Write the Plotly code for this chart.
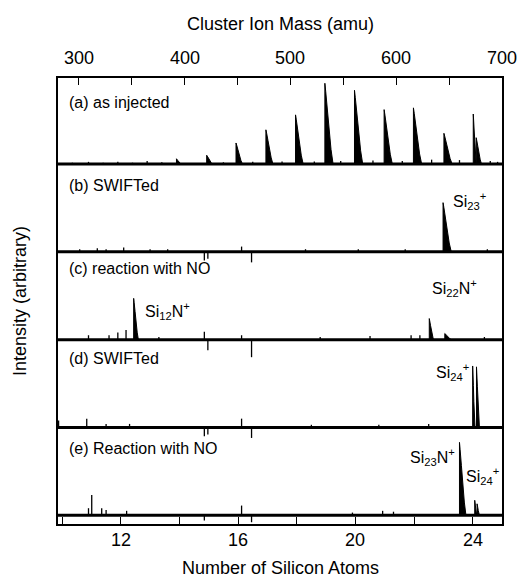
import plotly.graph_objects as go

# ---------------- data ----------------
# x in "Number of Silicon Atoms"; heights as fraction of a panel's height
panel_names = ["(a) as injected", "(b) SWIFTed", "(c) reaction with NO",
               "(d) SWIFTed", "(e) Reaction with NO"]

# broad peaks (position, height, width)
a_peak_x = [13.9, 14.93, 15.93, 16.95, 17.96, 18.96, 19.97, 20.98, 21.98, 23.02, 24.02, 24.12]
a_peak_h = [0.06, 0.10, 0.24, 0.39, 0.56, 0.92, 0.84, 0.62, 0.64, 0.35, 0.57, 0.30]
a_peak_w = [0.15, 0.20, 0.22, 0.24, 0.26, 0.28, 0.28, 0.28, 0.28, 0.28, 0.10, 0.18]
# narrow features / noise spikes (position, height)
a_spk_x = [10.35, 10.9, 11.4, 11.9, 12.4, 12.9, 13.4, 15.5, 16.5, 17.5, 18.6,
           19.5, 20.6, 21.6, 22.6, 23.55, 24.6, 24.85]
a_spk_h = [0.015, 0.025, 0.015, 0.025, 0.015, 0.035, 0.02, 0.02, 0.025, 0.03, 0.03,
           0.035, 0.04, 0.035, 0.05, 0.045, 0.035, 0.025]

b_peak_x = [22.99]
b_peak_h = [0.56]
b_peak_w = [0.28]
b_spk_x = [10.6, 11.2, 11.5, 12.1, 13.0, 13.6, 14.85, 14.97, 16.12, 16.46, 18.3, 20.1, 21.7, 24.5]
b_spk_h = [0.03, 0.04, 0.03, 0.05, 0.03, 0.03, -0.1, -0.08, 0.06, -0.12, 0.03, 0.03, 0.03, 0.03]

c_peak_x = [12.44, 22.52, 23.05]
c_peak_h = [0.47, 0.24, 0.07]
c_peak_w = [0.16, 0.14, 0.22]
c_spk_x = [10.9, 11.6, 11.9, 12.18, 13.3, 14.85, 14.97, 16.12, 16.46, 18.8, 20.5, 21.9, 22.2, 24.4]
c_spk_h = [0.05, 0.05, 0.08, 0.11, 0.03, 0.09, -0.12, 0.05, -0.2, 0.03, 0.04, 0.05, 0.05, 0.03]

d_peak_x = [24.0, 24.13]
d_peak_h = [0.70, 0.69]
d_peak_w = [0.08, 0.10]
d_spk_x = [9.88, 10.84, 11.5, 12.3, 14.85, 14.97, 16.12, 16.46, 18.5, 20.8, 22.5]
d_spk_h = [0.08, 0.10, 0.04, 0.04, -0.1, -0.08, 0.1, -0.12, 0.03, 0.03, 0.04]

e_peak_x = [23.55, 24.07, 24.15]
e_peak_h = [0.83, 0.17, 0.13]
e_peak_w = [0.22, 0.07, 0.08]
e_spk_x = [10.9, 11.01, 11.35, 11.5, 12.2, 14.85, 16.12, 16.46, 19.9, 20.93, 21.3]
e_spk_h = [0.08, 0.23, 0.08, 0.06, 0.05, -0.06, 0.11, -0.08, 0.03, 0.05, 0.04]

si_ticks = [10, 12, 14, 16, 18, 20, 22, 24]
si_label_vals = [12, 16, 20, 24]
mass_ticks = [300, 350, 400, 450, 500, 550, 600, 650, 700]
mass_label_vals = [300, 400, 500, 600, 700]

X_RANGE = [9.86, 25.0]
MASS_RANGE = [280.2, 700.0]

# peak shape template (fraction of width, fraction of height)
SHAPE_DX = [0, 0, 0.1, 0.3, 0.5, 0.75, 1.0]
SHAPE_DY = [0, 1, 0.9, 0.68, 0.42, 0.18, 0]

panels = [
    (a_peak_x, a_peak_h, a_peak_w, a_spk_x, a_spk_h),
    (b_peak_x, b_peak_h, b_peak_w, b_spk_x, b_spk_h),
    (c_peak_x, c_peak_h, c_peak_w, c_spk_x, c_spk_h),
    (d_peak_x, d_peak_h, d_peak_w, d_spk_x, d_spk_h),
    (e_peak_x, e_peak_h, e_peak_w, e_spk_x, e_spk_h),
]
offsets = [4, 3, 2, 1, 0]

fig = go.Figure()
for (px, ph, pw, sx, sh), off in zip(panels, offsets):
    fig.add_trace(go.Scatter(x=X_RANGE, y=[off, off], mode="lines",
                             line=dict(color="black", width=3), hoverinfo="skip"))
    xs, ys = [], []
    for x0, h, w in zip(px, ph, pw):
        for dx, dy in zip(SHAPE_DX, SHAPE_DY):
            xs.append(x0 + dx * w)
            ys.append(off + dy * h)
        xs.append(None); ys.append(None)
    fig.add_trace(go.Scatter(x=xs, y=ys, mode="lines", fill="toself",
                             fillcolor="black", line=dict(color="black", width=1),
                             hoverinfo="skip"))
    xs, ys = [], []
    for x0, h in zip(sx, sh):
        xs += [x0, x0, None]
        ys += [off, off + h, None]
    fig.add_trace(go.Scatter(x=xs, y=ys, mode="lines",
                             line=dict(color="black", width=1.3), hoverinfo="skip"))

fig.add_trace(go.Scatter(x=MASS_RANGE, y=[None, None], xaxis="x2", mode="lines",
                         hoverinfo="skip"))

FONT = "Liberation Sans, Arial, sans-serif"
TOP_PX = 78
PLOT_H = 524 - TOP_PX

def paper_y(py):
    return (524 - py) / PLOT_H

label_y = [4.70, 3.75, 2.81, 1.78, 0.76]
annotations = []
for name, ly in zip(panel_names, label_y):
    annotations.append(dict(x=10.15, y=ly, xref="x", yref="y", text=name,
                            showarrow=False, xanchor="left", yanchor="middle",
                            font=dict(size=16, color="black", family=FONT)))

species = [
    ("Si<sub>23</sub><sup>+</sup>", 23.25, 3.58, "left"),
    ("Si<sub>12</sub>N<sup>+</sup>", 12.75, 2.33, "left"),
    ("Si<sub>22</sub>N<sup>+</sup>", 22.54, 2.59, "left"),
    ("Si<sub>24</sub><sup>+</sup>", 23.93, 1.63, "right"),
    ("Si<sub>23</sub>N<sup>+</sup>", 23.47, 0.66, "right"),
    ("Si<sub>24</sub><sup>+</sup>", 23.72, 0.45, "left"),
]
for txt, x, y, anc in species:
    annotations.append(dict(x=x, y=y, xref="x", yref="y", text=txt, showarrow=False,
                            xanchor=anc, yanchor="middle",
                            font=dict(size=16, color="black", family=FONT)))

for v in si_label_vals:
    annotations.append(dict(x=v, y=paper_y(540), xref="x", yref="paper", text=str(v),
                            showarrow=False, xanchor="center", yanchor="middle",
                            font=dict(size=18, color="black", family=FONT)))
for v in mass_label_vals:
    annotations.append(dict(x=v, y=paper_y(58), xref="x2", yref="paper", text=str(v),
                            showarrow=False, xanchor="center", yanchor="middle",
                            font=dict(size=18, color="black", family=FONT)))
annotations.append(dict(x=0.5, y=paper_y(568), xref="paper", yref="paper",
                        text="Number of Silicon Atoms", showarrow=False,
                        xanchor="center", yanchor="middle",
                        font=dict(size=18, color="black", family=FONT)))
annotations.append(dict(x=0.5, y=paper_y(24), xref="paper", yref="paper",
                        text="Cluster Ion Mass (amu)", showarrow=False,
                        xanchor="center", yanchor="middle",
                        font=dict(size=18, color="black", family=FONT)))
annotations.append(dict(x=-38/444, y=0.5, xref="paper", yref="paper",
                        text="Intensity (arbitrary)", textangle=-90, showarrow=False,
                        xanchor="center", yanchor="middle",
                        font=dict(size=18, color="black", family=FONT)))

fig.update_layout(
    width=525, height=583,
    margin=dict(l=58, r=23, t=TOP_PX, b=59),
    paper_bgcolor="white", plot_bgcolor="white",
    showlegend=False,
    hovermode=False,
    font=dict(family=FONT, color="black", size=18),
    annotations=annotations,
    xaxis=dict(range=X_RANGE, tickvals=si_ticks, showticklabels=False,
               ticks="inside", ticklen=7, tickwidth=1, tickcolor="black",
               showline=True, linecolor="black", linewidth=1.5, mirror=True,
               showgrid=False, zeroline=False),
    xaxis2=dict(range=MASS_RANGE, overlaying="x", side="top",
                tickvals=mass_ticks, showticklabels=False,
                ticks="inside", ticklen=7, tickwidth=1, tickcolor="black",
                showline=False, showgrid=False, zeroline=False),
    yaxis=dict(range=[-0.1, 4.98], showticklabels=False, ticks="",
               showline=True, linecolor="black", linewidth=1.5, mirror=True,
               showgrid=False, zeroline=False),
)

fig.write_html("out.html", config={"displayModeBar": False},
               post_script="document.body.style.margin='0px';")
